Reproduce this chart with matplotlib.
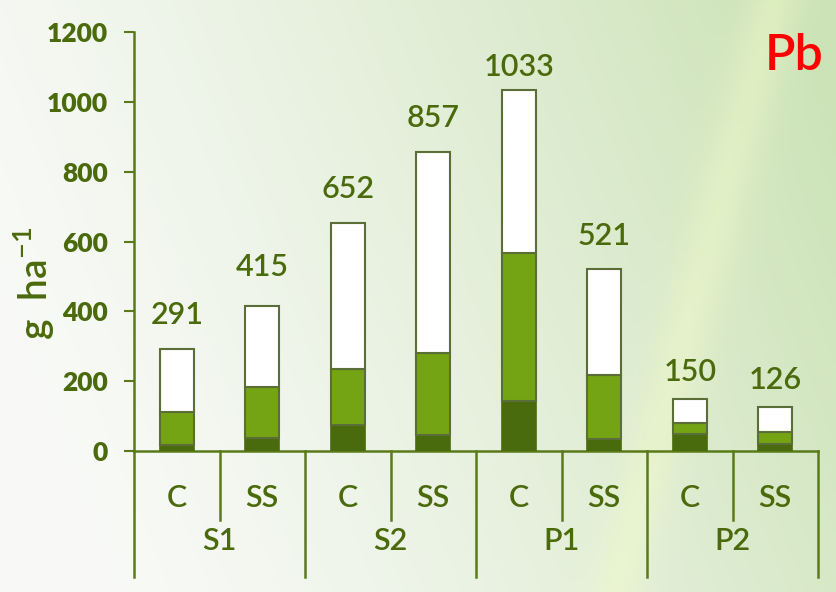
import numpy as np
import matplotlib.pyplot as plt

plt.rcParams['font.family'] = ['Lato', 'DejaVu Sans']

# Data (g ha-1)
groups = ['S1', 'S2', 'P1', 'P2']
treatments = ['C', 'SS', 'C', 'SS', 'C', 'SS', 'C', 'SS']
bottom_part = [18, 38, 74, 46, 143, 33, 50, 20]
middle_part = [94, 146, 162, 236, 424, 186, 30, 35]
totals = [291, 415, 652, 857, 1033, 521, 150, 126]
label_offsets = [15, 18, 15, 14, 7, 14, 9, 9]   # points above bar top

txt = '#4a6a0c'
dark = '#4a6a0e'
mid = '#74a414'
edge = '#5b6e37'

fig = plt.figure(figsize=(8.36, 5.92), dpi=100)

# background gradient
bg = fig.add_axes([0, 0, 1, 1], zorder=-10)
H, W = 296, 418
yy, xx = np.mgrid[0:H, 0:W]
t = np.clip((xx / W) * 0.9 + (1 - yy / H) * 0.25 - 0.1, 0, 1)
c0 = np.array([0.975, 0.98, 0.97])
c1 = np.array([0.80, 0.89, 0.72])
img = c0 + (c1 - c0) * t[..., None] ** 1.3
# light diagonal streak
d = (xx - (387 - 80 * yy / H))
streak = np.exp(-(d / 14.0) ** 2)[..., None] * 0.4
img = img + (np.array([0.96, 0.99, 0.78]) - img) * streak
bg.imshow(np.clip(img, 0, 1), aspect='auto', extent=[0, 1, 0, 1])
bg.axis('off')

ax = fig.add_axes([0.1603, 0.2382, 0.8182, 0.7077])
ax.patch.set_alpha(0)
x = np.arange(len(treatments))
top_part = [t_ - b - m for t_, b, m in zip(totals, bottom_part, middle_part)]
mid_bottom = bottom_part
top_bottom = [b + m for b, m in zip(bottom_part, middle_part)]

ax.bar(x, bottom_part, width=0.4, color=dark, edgecolor=dark, linewidth=1.2, zorder=3)
ax.bar(x, middle_part, bottom=mid_bottom, width=0.4, color=mid, edgecolor=edge, linewidth=1.5, zorder=3)
ax.bar(x, top_part, bottom=top_bottom, width=0.4, color='white', edgecolor=edge, linewidth=1.5, zorder=3)

for xi, tot, off in zip(x, totals, label_offsets):
    ax.annotate(str(tot), (xi, tot), xytext=(0, off), textcoords='offset points',
                ha='center', va='bottom', fontsize=22, color=txt, fontweight='semibold')

ax.set_xlim(-0.5, 7.5)
ax.set_ylim(0, 1200)
ax.set_yticks(range(0, 1201, 200))
ax.tick_params(axis='y', direction='out', length=7, width=1.5, color='#5a7a1a',
               labelsize=19, labelcolor=txt, pad=12)
for lab in ax.get_yticklabels():
    lab.set_fontweight('heavy')
ax.set_xticks([])
for s in ['top', 'right', 'bottom']:
    ax.spines[s].set_visible(False)
ax.spines['left'].set_color('#5a7a1a')
ax.spines['left'].set_linewidth(1.8)

ax.set_ylabel('g  ha$^{\\mathregular{-1}}$', fontsize=28, color=txt, fontweight='semibold')
ax.yaxis.set_label_coords(-0.112, 0.40)

# category axis below the plot
tr = ax.get_xaxis_transform()
line_kw = dict(color='#5a7a1a', lw=1.8, clip_on=False, transform=tr)
ax.plot([-0.5, 7.5], [0, 0], **line_kw)
ax.plot([-0.5, -0.5], [0, -0.30], **line_kw)
for b in [0.5, 2.5, 4.5, 6.5]:
    ax.plot([b, b], [0, -0.165], **line_kw)
for b in [1.5, 3.5, 5.5, 7.5]:
    ax.plot([b, b], [0, -0.30], **line_kw)
for xi, tname in zip(x, treatments):
    ax.text(xi, -0.113, tname, transform=tr, ha='center', va='center',
            fontsize=22, color=txt, fontweight='semibold')
for gi, gname in enumerate(groups):
    ax.text(2 * gi + 0.5, -0.215, gname, transform=tr, ha='center', va='center',
            fontsize=22, color=txt, fontweight='semibold')

ax.text(1.008, 0.945, 'Pb', transform=ax.transAxes, ha='right', va='center',
        fontsize=36, color='#ff0000', fontweight='semibold')

fig.savefig('out.png', dpi=100)
